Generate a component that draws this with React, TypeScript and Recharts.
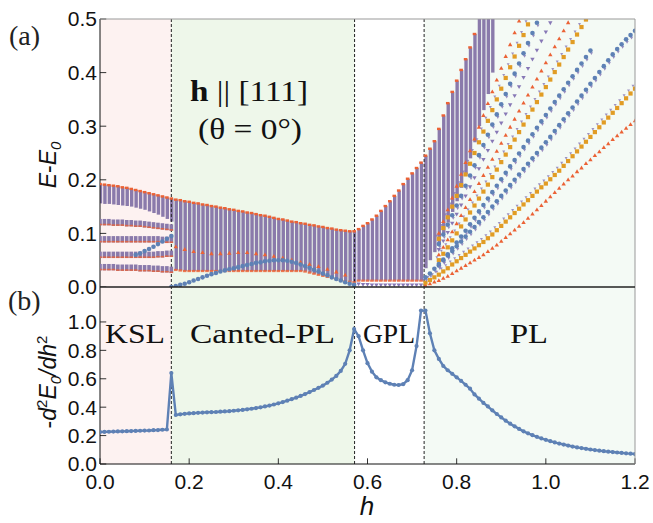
import React from 'react';
import {
  ComposedChart,
  Bar,
  Line,
  Scatter,
  XAxis,
  YAxis,
  ReferenceArea,
  ReferenceLine,
} from 'recharts';

// field grid h = 0.00 ... 1.20
const hGrid = [
  0.0, 0.01, 0.02, 0.03, 0.04, 0.05, 0.06, 0.07, 0.08, 0.09,
  0.1, 0.11, 0.12, 0.13, 0.14, 0.15, 0.16, 0.17, 0.18, 0.19,
  0.2, 0.21, 0.22, 0.23, 0.24, 0.25, 0.26, 0.27, 0.28, 0.29,
  0.3, 0.31, 0.32, 0.33, 0.34, 0.35, 0.36, 0.37, 0.38, 0.39,
  0.4, 0.41, 0.42, 0.43, 0.44, 0.45, 0.46, 0.47, 0.48, 0.49,
  0.5, 0.51, 0.52, 0.53, 0.54, 0.55, 0.56, 0.57, 0.58, 0.59,
  0.6, 0.61, 0.62, 0.63, 0.64, 0.65, 0.66, 0.67, 0.68, 0.69,
  0.7, 0.71, 0.72, 0.73, 0.74, 0.75, 0.76, 0.77, 0.78, 0.79,
  0.8, 0.81, 0.82, 0.83, 0.84, 0.85, 0.86, 0.87, 0.88, 0.89,
  0.9, 0.91, 0.92, 0.93, 0.94, 0.95, 0.96, 0.97, 0.98, 0.99,
  1.0, 1.01, 1.02, 1.03, 1.04, 1.05, 1.06, 1.07, 1.08, 1.09,
  1.1, 1.11, 1.12, 1.13, 1.14, 1.15, 1.16, 1.17, 1.18, 1.19,
  1.2,
];

// -d2E0/dh2 (panel b)
const curvature = [
  0.225, 0.226, 0.227, 0.228, 0.229, 0.23, 0.231, 0.232, 0.233, 0.234,
  0.235, 0.236, 0.238, 0.239, 0.241, 0.243, 0.64, 0.345, 0.35, 0.353,
  0.356, 0.358, 0.36, 0.362, 0.364, 0.365, 0.366, 0.368, 0.37, 0.372,
  0.375, 0.378, 0.381, 0.385, 0.389, 0.394, 0.399, 0.405, 0.411, 0.419,
  0.427, 0.436, 0.446, 0.456, 0.467, 0.479, 0.492, 0.506, 0.521, 0.536,
  0.552, 0.572, 0.594, 0.62, 0.655, 0.705, 0.8, 0.95, 0.9, 0.8,
  0.71, 0.65, 0.61, 0.59, 0.575, 0.565, 0.558, 0.556, 0.562, 0.59,
  0.66, 0.83, 1.08, 1.08, 0.92, 0.8, 0.74, 0.69, 0.66, 0.635,
  0.61, 0.585, 0.558, 0.53, 0.49, 0.46, 0.43, 0.405, 0.378, 0.352,
  0.328, 0.305, 0.284, 0.265, 0.247, 0.23, 0.216, 0.203, 0.191, 0.18,
  0.17, 0.161, 0.152, 0.144, 0.137, 0.13, 0.123, 0.117, 0.112, 0.107,
  0.102, 0.098, 0.094, 0.09, 0.087, 0.084, 0.081, 0.078, 0.075, 0.073,
  0.07,
];

// dense spectrum columns, h = 0.00 ... 0.88
const bandLow = [
  0.156, 0.155, 0.155, 0.154, 0.153, 0.152, 0.151, 0.15, 0.148, 0.146,
  0.144, 0.141, 0.138, 0.135, 0.131, 0.127, 0.122, 0.032, 0.031, 0.03,
  0.03, 0.03, 0.03, 0.03, 0.03, 0.03, 0.03, 0.03, 0.03, 0.03,
  0.03, 0.03, 0.03, 0.03, 0.03, 0.03, 0.03, 0.03, 0.03, 0.03,
  0.03, 0.03, 0.03, 0.03, 0.03, 0.03, 0.029, 0.027, 0.025, 0.023,
  0.021, 0.019, 0.017, 0.015, 0.013, 0.011, 0.01, 0.009, 0.012, 0.012,
  0.012, 0.012, 0.012, 0.012, 0.012, 0.012, 0.012, 0.012, 0.012, 0.012,
  0.012, 0.012, 0.012, 0.035, 0.05, 0.065, 0.08, 0.1, 0.12, 0.14,
  0.16, 0.185, 0.21, 0.24, 0.27, 0.3, 0.33, 0.36, 0.4,
];
const bandHigh = [
  0.192, 0.191, 0.19, 0.189, 0.188, 0.186, 0.185, 0.183, 0.181, 0.179,
  0.177, 0.175, 0.173, 0.171, 0.169, 0.167, 0.165, 0.163, 0.162, 0.16,
  0.159, 0.157, 0.156, 0.154, 0.153, 0.151, 0.15, 0.148, 0.147, 0.145,
  0.144, 0.142, 0.141, 0.139, 0.138, 0.136, 0.134, 0.133, 0.131, 0.129,
  0.127, 0.126, 0.124, 0.122, 0.121, 0.119, 0.118, 0.116, 0.115, 0.113,
  0.112, 0.11, 0.109, 0.107, 0.106, 0.105, 0.104, 0.104, 0.108, 0.114,
  0.119, 0.126, 0.133, 0.142, 0.151, 0.16, 0.17, 0.18, 0.192, 0.202,
  0.212, 0.222, 0.232, 0.245, 0.258, 0.272, 0.295, 0.32, 0.343, 0.364,
  0.385, 0.405, 0.425, 0.447, 0.472, 0.5, 0.5, 0.5, 0.5,
];

// separated levels in the KSL phase, h = 0.00 ... 0.16
const hKsl = [0.0, 0.01, 0.02, 0.03, 0.04, 0.05, 0.06, 0.07, 0.08, 0.09, 0.1, 0.11, 0.12, 0.13, 0.14, 0.15, 0.16];
const kslLevel1 = [0.121, 0.121, 0.121, 0.12, 0.12, 0.12, 0.119, 0.119, 0.118, 0.118, 0.117, 0.116, 0.115, 0.114, 0.113, 0.112, 0.111];
const kslLevel2 = [0.089, 0.089, 0.089, 0.089, 0.089, 0.089, 0.089, 0.089, 0.089, 0.089, 0.089, 0.089, 0.089, 0.089, 0.088, 0.088, 0.088];
const kslLevel3 = [0.06, 0.06, 0.06, 0.06, 0.06, 0.06, 0.06, 0.06, 0.06, 0.06, 0.06, 0.06, 0.06, 0.061, 0.061, 0.062, 0.062];
const kslLevel4 = [0.037, 0.037, 0.037, 0.037, 0.036, 0.036, 0.036, 0.036, 0.036, 0.035, 0.035, 0.035, 0.034, 0.034, 0.033, 0.033, 0.032];
const hKslRise = [0.08, 0.09, 0.1, 0.11, 0.12, 0.13, 0.14, 0.15, 0.16];
const kslRise = [0.06, 0.063, 0.067, 0.071, 0.075, 0.08, 0.085, 0.09, 0.095];

// lowest level in the canted phase, h = 0.16 ... 0.57
const hCanted = [
  0.16, 0.17, 0.18, 0.19, 0.2, 0.21, 0.22, 0.23, 0.24, 0.25, 0.26, 0.27, 0.28, 0.29,
  0.3, 0.31, 0.32, 0.33, 0.34, 0.35, 0.36, 0.37, 0.38, 0.39, 0.4, 0.41, 0.42, 0.43,
  0.44, 0.45, 0.46, 0.47, 0.48, 0.49, 0.5, 0.51, 0.52, 0.53, 0.54, 0.55, 0.56, 0.57,
];
const cantedLow = [
  0.0, 0.002, 0.004, 0.006, 0.009, 0.012, 0.015, 0.018, 0.021, 0.024, 0.026, 0.029, 0.031, 0.033,
  0.035, 0.037, 0.039, 0.041, 0.043, 0.045, 0.046, 0.048, 0.049, 0.05, 0.05, 0.05, 0.049, 0.047,
  0.045, 0.042, 0.039, 0.036, 0.032, 0.029, 0.025, 0.022, 0.018, 0.015, 0.012, 0.009, 0.006, 0.004,
];
const hCantedMid = [0.17, 0.19, 0.21, 0.23, 0.25, 0.27, 0.29, 0.31, 0.33, 0.35, 0.37, 0.39, 0.41, 0.43, 0.45, 0.47, 0.49, 0.51, 0.53, 0.55];
const cantedMid = [0.075, 0.07, 0.066, 0.064, 0.062, 0.062, 0.063, 0.064, 0.064, 0.062, 0.06, 0.057, 0.054, 0.05, 0.046, 0.042, 0.038, 0.033, 0.028, 0.022];

// lowest levels in the GPL phase
const hGpl = [0.58, 0.59, 0.6, 0.61, 0.62, 0.63, 0.64, 0.65, 0.66, 0.67, 0.68, 0.69, 0.7, 0.71, 0.72];
const gplLow = [0.006, 0.005, 0.005, 0.004, 0.004, 0.004, 0.004, 0.004, 0.004, 0.004, 0.004, 0.004, 0.004, 0.004, 0.004];

// dispersing levels in the PL phase, h = 0.73 ... 1.20
const hFan = [
  0.73, 0.74, 0.75, 0.76, 0.77, 0.78, 0.79, 0.8, 0.81, 0.82, 0.83, 0.84, 0.85, 0.86, 0.87, 0.88,
  0.89, 0.9, 0.91, 0.92, 0.93, 0.94, 0.95, 0.96, 0.97, 0.98, 0.99, 1.0, 1.01, 1.02, 1.03, 1.04,
  1.05, 1.06, 1.07, 1.08, 1.09, 1.1, 1.11, 1.12, 1.13, 1.14, 1.15, 1.16, 1.17, 1.18, 1.19, 1.2,
];
const fanOrange = [
  0.003, 0.006, 0.009, 0.012, 0.016, 0.02, 0.025, 0.03, 0.035, 0.04, 0.045, 0.05, 0.055, 0.06, 0.066, 0.072,
  0.078, 0.085, 0.092, 0.099, 0.106, 0.113, 0.12, 0.128, 0.136, 0.144, 0.152, 0.16, 0.168, 0.176, 0.184, 0.192,
  0.2, 0.207, 0.215, 0.222, 0.23, 0.237, 0.245, 0.252, 0.26, 0.267, 0.275, 0.282, 0.289, 0.296, 0.303, 0.31,
];
const fanYellow = [
  0.008, 0.013, 0.018, 0.023, 0.029, 0.035, 0.042, 0.048, 0.054, 0.06, 0.066, 0.072, 0.078, 0.084, 0.091, 0.098,
  0.106, 0.114, 0.122, 0.13, 0.138, 0.146, 0.154, 0.162, 0.17, 0.178, 0.186, 0.193, 0.201, 0.209, 0.217, 0.226,
  0.235, 0.244, 0.253, 0.262, 0.271, 0.28, 0.289, 0.298, 0.307, 0.316, 0.325, 0.334, 0.343, 0.352, 0.361, 0.37,
];
const fanBlue = [
  0.018, 0.025, 0.034, 0.043, 0.051, 0.059, 0.067, 0.076, 0.085, 0.094, 0.103, 0.112, 0.121, 0.13, 0.14, 0.15,
  0.16, 0.17, 0.18, 0.19, 0.2, 0.21, 0.22, 0.23, 0.24, 0.25, 0.26, 0.27, 0.28, 0.291, 0.302, 0.313,
  0.324, 0.335, 0.346, 0.357, 0.368, 0.379, 0.39, 0.401, 0.412, 0.423, 0.434, 0.444, 0.453, 0.462, 0.47, 0.478,
];

// higher PL levels, h = 0.76 ... 1.10 (null once they leave the window)
const hUpper = [
  0.76, 0.77, 0.78, 0.79, 0.8, 0.81, 0.82, 0.83, 0.84, 0.85, 0.86, 0.87, 0.88, 0.89, 0.9, 0.91, 0.92, 0.93,
  0.94, 0.95, 0.96, 0.97, 0.98, 0.99, 1.0, 1.01, 1.02, 1.03, 1.04, 1.05, 1.06, 1.07, 1.08, 1.09, 1.1,
];
const upperA = [
  0.04, 0.05, 0.061, 0.072, 0.083, 0.094, 0.105, 0.117, 0.129, 0.141, 0.153, 0.165, 0.177, 0.189, 0.201, 0.213, 0.225, 0.237,
  0.249, 0.261, 0.273, 0.285, 0.297, 0.309, 0.321, 0.333, 0.345, 0.357, 0.369, 0.381, 0.393, 0.405, 0.417, 0.429, 0.441,
];
const upperB = [
  0.05, 0.062, 0.074, 0.087, 0.1, 0.113, 0.126, 0.139, 0.152, 0.165, 0.178, 0.191, 0.205, 0.219, 0.233, 0.247, 0.261, 0.275,
  0.289, 0.303, 0.317, 0.331, 0.345, 0.359, 0.373, 0.387, 0.401, 0.415, 0.429, 0.443, 0.457, 0.471, 0.485, 0.499, null,
];
const upperC = [
  0.06, 0.074, 0.088, 0.103, 0.118, 0.133, 0.148, 0.163, 0.178, 0.193, 0.208, 0.223, 0.238, 0.253, 0.268, 0.283, 0.298, 0.313,
  0.328, 0.343, 0.358, 0.373, 0.388, 0.403, 0.418, 0.433, 0.448, 0.463, 0.478, 0.493, null, null, null, null, null,
];
const upperD = [
  0.07, 0.086, 0.102, 0.119, 0.136, 0.153, 0.17, 0.187, 0.204, 0.221, 0.238, 0.255, 0.272, 0.289, 0.306, 0.323, 0.34, 0.357,
  0.374, 0.391, 0.408, 0.425, 0.442, 0.459, 0.476, 0.493, null, null, null, null, null, null, null, null, null,
];
const upperE = [
  0.08, 0.098, 0.116, 0.134, 0.152, 0.17, 0.189, 0.208, 0.227, 0.246, 0.265, 0.284, 0.303, 0.322, 0.341, 0.36, 0.379, 0.398,
  0.417, 0.436, 0.455, 0.474, 0.493, null, null, null, null, null, null, null, null, null, null, null, null,
];
const upperF = [
  0.09, 0.11, 0.13, 0.15, 0.17, 0.19, 0.21, 0.23, 0.25, 0.27, 0.29, 0.31, 0.33, 0.35, 0.37, 0.39, 0.41, 0.43,
  0.45, 0.47, 0.49, null, null, null, null, null, null, null, null, null, null, null, null, null, null,
];
const upperG = [
  0.1, 0.122, 0.144, 0.166, 0.188, 0.21, 0.232, 0.254, 0.276, 0.298, 0.32, 0.342, 0.364, 0.386, 0.408, 0.43, 0.452, 0.474,
  0.496, null, null, null, null, null, null, null, null, null, null, null, null, null, null, null, null,
];

const phaseBounds = [0.16, 0.571, 0.727];
const topTicks = [0, 0.1, 0.2, 0.3, 0.4, 0.5];
const bottomTicks = [0, 0.2, 0.4, 0.6, 0.8, 1.0];
const hTicks = [0, 0.2, 0.4, 0.6, 0.8, 1.0, 1.2];

const BLUE = '#5e81b5';
const YELLOW = '#e19c24';
const ORANGE = '#eb6235';
const PURPLE = '#8778b6';
const STRIPE = '#8a7aab';

const sans = '"Liberation Sans", Arial, sans-serif';
const serif = '"Liberation Serif", "DejaVu Serif", serif';

const pts = (hs: number[], es: (number | null)[]) =>
  hs.map((h, i) => ({ h, e: es[i] })).filter((p) => p.e !== null);

const bandRows = bandLow.map((lo, i) => ({ h: hGrid[i], range: [lo, bandHigh[i]] }));
const bandTops = bandHigh.map((e, i) => ({ h: hGrid[i], e })).filter((p) => p.e < 0.5);
const bandBottoms = bandLow.map((e, i) => ({ h: hGrid[i], e })).filter((p) => p.h > 0.16 && p.h < 0.73);
const curveRows = hGrid.map((h, i) => ({ h, c: curvature[i] }));

const Dot = (p: any) => <circle cx={p.cx} cy={p.cy} r={2.3} fill={BLUE} />;
const DotPair = (p: any) => (
  <g>
    <path d={`M${p.cx + 1},${p.cy + 4.5} l1.6,-2.8 l-3.2,0 z`} fill={PURPLE} opacity={0.85} />
    <circle cx={p.cx} cy={p.cy} r={2.3} fill={BLUE} />
  </g>
);
const Sq = (p: any) => (
  <g>
    <path d={`M${p.cx - 3.5},${p.cy - 4} l3,0 l-1.5,2.6 z`} fill={PURPLE} opacity={0.8} />
    <rect x={p.cx - 2.1} y={p.cy - 2.1} width={4.2} height={4.2} fill={YELLOW} />
  </g>
);
const Tri = (p: any) => <path d={`M${p.cx},${p.cy - 2.4} l2.2,3.8 l-4.4,0 z`} fill={ORANGE} />;
const InvTri = (p: any) => <path d={`M${p.cx},${p.cy + 2.4} l2.2,-3.8 l-4.4,0 z`} fill={PURPLE} />;
const TopMark = (p: any) => <rect x={p.cx - 1.8} y={p.cy - 1.2} width={3.6} height={2.4} fill={ORANGE} />;
const BottomMark = (p: any) => <rect x={p.cx - 1.8} y={p.cy - 1} width={3.6} height={2.2} fill={ORANGE} opacity={0.85} />;
const KslMark = (p: any) => (
  <g>
    <rect x={p.cx - 1.8} y={p.cy - 3.2} width={3.6} height={6.4} fill={STRIPE} />
    <rect x={p.cx - 1.8} y={p.cy + 1.6} width={3.6} height={1.6} fill={ORANGE} opacity={0.8} />
  </g>
);

const tickStyle = { fontSize: 21, fill: '#111', fontFamily: sans };

// inward frame ticks, lengths given in data units of each panel
const yTickMarks = (ticks: number[], len: number) =>
  ticks.map((t) => (
    <ReferenceLine key={'yt' + t} segment={[{ x: 0, y: t }, { x: len, y: t }]} stroke="#333" strokeWidth={1} />
  ));
const xTickMarks = (ticks: number[], len: number) =>
  ticks.map((t) => (
    <ReferenceLine key={'xt' + t} segment={[{ x: t, y: 0 }, { x: t, y: len }]} stroke="#333" strokeWidth={1} />
  ));

export default function App() {
  const shading = [
    <ReferenceArea key="a1" x1={0} x2={phaseBounds[0]} fill="#fdf2f1" fillOpacity={1} stroke="none" ifOverflow="hidden" />,
    <ReferenceArea key="a2" x1={phaseBounds[0]} x2={phaseBounds[1]} fill="#eef7ea" fillOpacity={1} stroke="none" ifOverflow="hidden" />,
    <ReferenceArea key="a3" x1={phaseBounds[2]} x2={1.2} fill="#f4faf5" fillOpacity={1} stroke="none" ifOverflow="hidden" />,
  ];
  const dashes = phaseBounds.map((b) => (
    <ReferenceLine key={'d' + b} x={b} stroke="#222" strokeWidth={1} strokeDasharray="3 2" />
  ));
  const labelProps = { fontFamily: serif, fontSize: 27, fill: '#111', lengthAdjust: 'spacingAndGlyphs' as const };

  return (
    <div style={{ position: 'absolute', left: 0, top: 0, width: 653, height: 523, background: '#fff' }}>
      <div style={{ position: 'absolute', left: 0, top: 0 }}>
        <ComposedChart width={653} height={300} data={bandRows} margin={{ top: 19, right: 18, bottom: 13, left: 0 }}>
          <XAxis dataKey="h" type="number" domain={[0, 1.2]} allowDataOverflow hide />
          <YAxis
            dataKey="e"
            type="number"
            domain={[0, 0.5]}
            ticks={topTicks}
            interval={0}
            allowDataOverflow
            width={100}
            tickFormatter={(v: number) => v.toFixed(1)}
            tick={tickStyle}
            tickLine={false}
            tickSize={3}
            tickMargin={0}
            axisLine={{ stroke: '#111' }}
          />
          {shading}
          <Bar dataKey="range" fill={STRIPE} barSize={3.4} isAnimationActive={false} />
          <Scatter data={pts(hKsl, kslLevel1)} shape={KslMark} isAnimationActive={false} />
          <Scatter data={pts(hKsl, kslLevel2)} shape={KslMark} isAnimationActive={false} />
          <Scatter data={pts(hKsl, kslLevel3)} shape={KslMark} isAnimationActive={false} />
          <Scatter data={pts(hKsl, kslLevel4)} shape={KslMark} isAnimationActive={false} />
          <Scatter data={bandTops} shape={TopMark} isAnimationActive={false} />
          <Scatter data={bandBottoms} shape={BottomMark} isAnimationActive={false} />
          <Scatter data={pts(hCantedMid, cantedMid)} shape={Tri} isAnimationActive={false} />
          <Scatter data={pts(hKslRise, kslRise)} shape={Dot} isAnimationActive={false} />
          <Scatter data={pts(hCanted, cantedLow)} shape={Dot} isAnimationActive={false} />
          <Scatter data={pts(hGpl, gplLow)} shape={InvTri} isAnimationActive={false} />
          <Scatter data={pts(hUpper, upperG)} shape={Tri} isAnimationActive={false} />
          <Scatter data={pts(hUpper, upperF)} shape={Sq} isAnimationActive={false} />
          <Scatter data={pts(hUpper, upperE)} shape={DotPair} isAnimationActive={false} />
          <Scatter data={pts(hUpper, upperD)} shape={InvTri} isAnimationActive={false} />
          <Scatter data={pts(hUpper, upperC)} shape={Tri} isAnimationActive={false} />
          <Scatter data={pts(hUpper, upperB)} shape={Sq} isAnimationActive={false} />
          <Scatter data={pts(hUpper, upperA)} shape={DotPair} isAnimationActive={false} />
          <Scatter data={pts(hFan, fanOrange)} shape={Tri} isAnimationActive={false} />
          <Scatter data={pts(hFan, fanYellow)} shape={Sq} isAnimationActive={false} />
          <Scatter data={pts(hFan, fanBlue)} shape={DotPair} isAnimationActive={false} />
          {dashes}
          {yTickMarks(topTicks, 0.014)}
        </ComposedChart>
      </div>
      <div style={{ position: 'absolute', left: 0, top: 287 }}>
        <ComposedChart width={653} height={236} data={curveRows} margin={{ top: 0, right: 18, bottom: 0, left: 0 }}>
          <XAxis
            dataKey="h"
            type="number"
            domain={[0, 1.2]}
            ticks={hTicks}
            interval={0}
            allowDataOverflow
            height={59}
            tickFormatter={(v: number) => v.toFixed(1)}
            tick={tickStyle}
            tickLine={false}
            tickSize={3}
            tickMargin={7}
            axisLine={{ stroke: '#111' }}
          />
          <YAxis
            type="number"
            domain={[0, 1.246]}
            ticks={bottomTicks}
            interval={0}
            allowDataOverflow
            width={100}
            tickFormatter={(v: number) => v.toFixed(1)}
            tick={tickStyle}
            tickLine={false}
            tickSize={3}
            tickMargin={0}
            axisLine={{ stroke: '#111' }}
          />
          {shading}
          {dashes}
          {yTickMarks(bottomTicks, 0.014)}
          {xTickMarks(hTicks, 0.04)}
          <Line
            dataKey="c"
            stroke={BLUE}
            strokeWidth={2.4}
            dot={{ r: 2.1, fill: BLUE, stroke: 'none' }}
            isAnimationActive={false}
          />
        </ComposedChart>
      </div>
      <svg
        width={653}
        height={523}
        style={{ position: 'absolute', left: 0, top: 0, pointerEvents: 'none' }}
      >
        <line x1={100} y1={19} x2={635} y2={19} stroke="#999" strokeWidth={1} />
        <line x1={635} y1={19} x2={635} y2={464} stroke="#999" strokeWidth={1} />
        <line x1={100} y1={287} x2={635} y2={287} stroke="#222" strokeWidth={1.5} />
        <text x={9} y={45} fontFamily={serif} fontSize={28} fill="#222">(a)</text>
        <text x={8} y={310} fontFamily={serif} fontSize={28} fill="#222">(b)</text>
        <text x={190} y={101} {...labelProps} fontSize={29} textLength={118}>
          <tspan fontWeight="bold">h</tspan> || [111]
        </text>
        <text x={198} y={139} {...labelProps} fontSize={29} textLength={104}>
          (θ = 0°)
        </text>
        <text x={105} y={343} {...labelProps} textLength={60}>KSL</text>
        <text x={190} y={343} {...labelProps} textLength={145}>Canted-PL</text>
        <text x={363} y={343} {...labelProps} textLength={52}>GPL</text>
        <text x={510} y={343} {...labelProps} textLength={38}>PL</text>
        <text
          transform="translate(56,165) rotate(-90)"
          textAnchor="middle"
          fontFamily={sans}
          fontSize={23}
          fill="#111"
        >
          <tspan fontStyle="italic">E</tspan>-<tspan fontStyle="italic">E</tspan>
          <tspan fontSize={15} dy={5} fontStyle="italic">0</tspan>
        </text>
        <text
          transform="translate(56,382) rotate(-90)"
          textAnchor="middle"
          fontFamily={sans}
          fontSize={23}
          fill="#111"
        >
          -<tspan fontStyle="italic">d</tspan>
          <tspan fontSize={15} dy={-9}>2</tspan>
          <tspan fontStyle="italic" dy={9}>E</tspan>
          <tspan fontSize={15} dy={5} fontStyle="italic">0</tspan>
          <tspan fontStyle="italic" dy={-5}>/dh</tspan>
          <tspan fontSize={15} dy={-9}>2</tspan>
        </text>
        <text x={367} y={515} textAnchor="middle" fontFamily={sans} fontStyle="italic" fontSize={26} fill="#111">
          h
        </text>
      </svg>
    </div>
  );
}
